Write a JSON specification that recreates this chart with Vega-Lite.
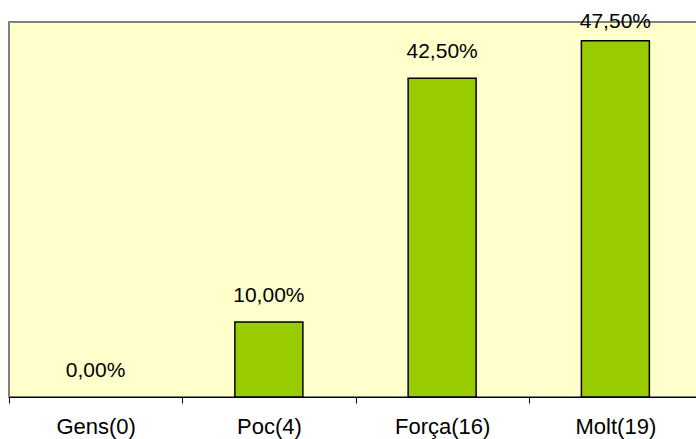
{
  "$schema": "https://vega.github.io/schema/vega-lite/v6.json",
  "width": 693,
  "height": 375,
  "padding": {"left": 9, "top": 22, "right": 0, "bottom": 42},
  "autosize": {"type": "none"},
  "background": "white",
  "config": {
    "view": {"fill": "#FFFFCC", "stroke": "#808080", "strokeWidth": 2},
    "font": "Liberation Sans"
  },
  "data": {
    "values": [
      {"cat": "Gens(0)", "value": 0, "label": "0,00%"},
      {"cat": "Poc(4)", "value": 10, "label": "10,00%"},
      {"cat": "Força(16)", "value": 42.5, "label": "42,50%"},
      {"cat": "Molt(19)", "value": 47.5, "label": "47,50%"}
    ]
  },
  "encoding": {
    "x": {
      "field": "cat",
      "type": "nominal",
      "sort": null,
      "scale": {"paddingInner": 0, "paddingOuter": 0},
      "axis": {
        "title": null,
        "labelAngle": 0,
        "tickBand": "extent",
        "domainColor": "#000000",
        "tickColor": "#000000",
        "tickSize": 6,
        "labelPadding": 13,
        "labelFontSize": 22,
        "labelColor": "#000000",
        "labelFont": "Liberation Sans"
      }
    }
  },
  "layer": [
    {
      "mark": {"type": "bar", "width": 68, "fill": "#99CC00", "stroke": "#000000", "strokeWidth": 1.5},
      "encoding": {
        "y": {"field": "value", "type": "quantitative", "scale": {"domain": [0, 50]}, "axis": null},
        "strokeOpacity": {"condition": {"test": "datum.value > 0", "value": 1}, "value": 0}
      }
    },
    {
      "mark": {"type": "text", "baseline": "alphabetic", "dy": -20, "fontSize": 21, "color": "#000000", "font": "Liberation Sans"},
      "encoding": {
        "y": {"field": "value", "type": "quantitative", "scale": {"domain": [0, 46.5], "range": [375, 26.25], "clamp": true}, "axis": null},
        "text": {"field": "label"}
      }
    }
  ],
  "resolve": {"scale": {"y": "independent"}}
}
